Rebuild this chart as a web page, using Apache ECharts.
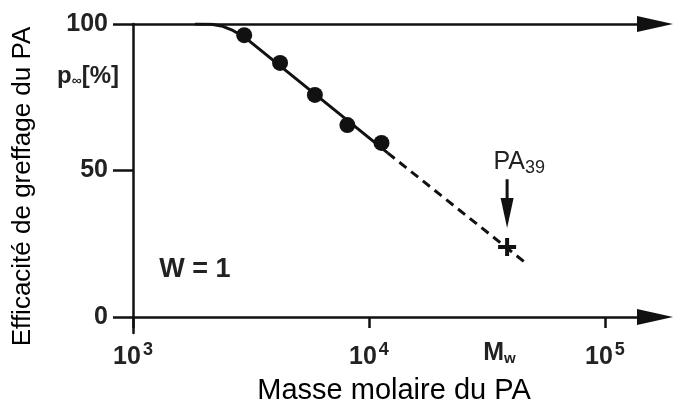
<!DOCTYPE html>
<html>
<head>
<meta charset="utf-8">
<script src="https://cdn.jsdelivr.net/npm/echarts@6/dist/echarts.min.js"></script>
<style>
html, body { margin: 0; padding: 0; background: #fff; }
#chart { width: 674px; height: 403px; }
</style>
</head>
<body>
<div id="chart"></div>
<script>
// points mesurés
var massePoints = [2960, 4200, 5900, 8100, 11300];
var effPoints = [96.2, 86.7, 75.8, 65.5, 59.4];
// courbe pleine
var courbeMasse = [1830, 2150, 2400, 2650, 2960, 12000];
var courbeEff = [100, 99.9, 99.2, 97.8, 95.6, 56.0];
// extrapolation en pointillés
var extraMasse = [12000, 46700];
var extraEff = [56.0, 18.1];
// PA39
var pa39Masse = 38500;
var pa39Eff = 23.9;
var flecheEff = [47, 35.5];
var pa39Texte = [43300, 53];
// graduations
var xTicks = [1000, 10000, 100000];
var mwTick = 35700;
var yTicks = [0, 50, 100];

function zip(xs, ys) {
    return xs.map(function (x, i) { return [x, ys[i]]; });
}

var police = 'Liberation Sans, Arial, sans-serif';
var noir = '#111';

var chart = echarts.init(document.getElementById('chart'));

var option = {
    backgroundColor: '#fff',
    animation: false,
    textStyle: { fontFamily: police },
    grid: { left: 133, right: 19, top: 24, bottom: 70, outerBoundsMode: 'none', containLabel: false },
    xAxis: [{
        type: 'log',
        min: 1000,
        max: 163000,
        axisLine: {
            onZero: true,
            symbol: ['none', 'triangle'],
            symbolSize: [16, 36],
            lineStyle: { color: noir, width: 2.5 }
        },
        axisTick: { customValues: xTicks, length: 11, lineStyle: { color: noir, width: 2.5 } },
        axisLabel: {
            customValues: xTicks.concat([mwTick]),
            margin: 8,
            color: '#222',
            fontSize: 25,
            fontWeight: 'bold',
            formatter: function (v) {
                if (Math.abs(v - mwTick) < 1) return 'M{sub|w}';
                return '10{sup|' + Math.round(Math.log10(v)) + '}';
            },
            rich: {
                sup: { fontSize: 18, fontWeight: 'bold', color: '#222', verticalAlign: 'top', padding: [0, 0, 14, 2] },
                sub: { fontSize: 15, fontWeight: 'bold', color: '#222', verticalAlign: 'bottom', padding: [10, 0, 0, 0] }
            }
        },
        splitLine: { show: false },
        name: 'Masse molaire du PA',
        nameLocation: 'middle',
        nameGap: 43,
        nameMoveOverlap: false,
        nameTextStyle: { fontSize: 29, color: '#000', fontFamily: police }
    }, {
        type: 'value',
        position: 'top',
        min: 0,
        max: 1,
        axisLine: {
            onZero: false,
            symbol: ['none', 'triangle'],
            symbolSize: [16, 36],
            lineStyle: { color: noir, width: 2.5 }
        },
        axisTick: { show: false },
        axisLabel: { show: false },
        splitLine: { show: false }
    }],
    yAxis: {
        type: 'value',
        min: -5.5,
        max: 100,
        axisLine: { onZero: false, lineStyle: { color: noir, width: 2.5 } },
        axisTick: { customValues: yTicks, length: 20, lineStyle: { color: noir, width: 2.5 } },
        axisLabel: {
            customValues: yTicks,
            margin: 25,
            color: '#222',
            fontSize: 25,
            fontWeight: 'bold'
        },
        splitLine: { show: false },
        name: 'Efficacité de greffage du PA',
        nameLocation: 'middle',
        nameGap: 97,
        nameMoveOverlap: false,
        nameTextStyle: { fontSize: 26, color: '#000', fontFamily: police, padding: [0, 16, 0, 0] }
    },
    graphic: [{
        type: 'text',
        x: 88,
        y: 76,
        style: {
            text: 'p{s|∞}[%]',
            align: 'center',
            verticalAlign: 'middle',
            font: 'bold 24px ' + police,
            fill: '#222',
            rich: {
                s: { fontSize: 14, fontWeight: 'bold', fill: '#222', verticalAlign: 'bottom', padding: [8, 0, 0, 0] }
            }
        }
    }, {
        type: 'text',
        x: 195,
        y: 270,
        style: {
            text: 'W = 1',
            align: 'center',
            verticalAlign: 'middle',
            font: 'bold 27px ' + police,
            fill: '#222'
        }
    }],
    series: [{
        type: 'line',
        data: zip(courbeMasse, courbeEff),
        symbol: 'none',
        lineStyle: { color: noir, width: 3 },
        z: 3
    }, {
        type: 'line',
        data: zip(extraMasse, extraEff),
        symbol: 'none',
        lineStyle: { color: noir, width: 3, type: [9, 6] },
        z: 3
    }, {
        type: 'scatter',
        data: zip(massePoints, effPoints),
        symbol: 'circle',
        symbolSize: 16,
        itemStyle: { color: noir, opacity: 1 },
        z: 4
    }, {
        // croix PA39
        type: 'scatter',
        data: [[pa39Masse, pa39Eff]],
        symbol: 'path://M7,0h4v7h7v4h-7v7h-4v-7h-7v-4h7z',
        symbolSize: 18,
        itemStyle: { color: noir, opacity: 1 },
        z: 4
    }, {
        // tige de la flèche
        type: 'line',
        data: zip([pa39Masse, pa39Masse], flecheEff),
        symbol: 'none',
        lineStyle: { color: noir, width: 3 },
        z: 3
    }, {
        // pointe de la flèche
        type: 'scatter',
        data: [[pa39Masse, flecheEff[1]]],
        symbol: 'triangle',
        symbolSize: [13, 30],
        symbolRotate: 180,
        itemStyle: { color: noir, opacity: 1 },
        z: 4
    }, {
        // texte PA39
        type: 'scatter',
        data: [pa39Texte],
        symbolSize: 0,
        itemStyle: { opacity: 1 },
        label: {
            show: true,
            position: 'inside',
            formatter: 'PA{sub|39}',
            fontSize: 25,
            color: '#222',
            fontFamily: police,
            rich: {
                sub: { fontSize: 18, color: '#222', verticalAlign: 'bottom', padding: [12, 0, 0, 0] }
            }
        },
        z: 4
    }]
};

chart.setOption(option);
</script>
</body>
</html>
